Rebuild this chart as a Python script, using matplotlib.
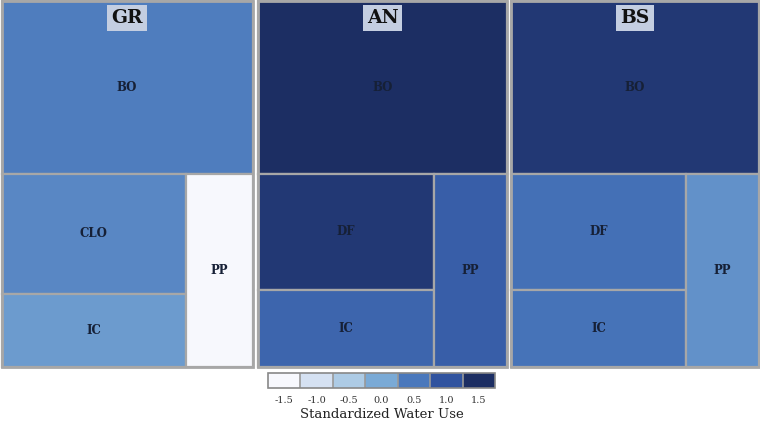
import numpy as np
import matplotlib.pyplot as plt
from matplotlib.patches import Rectangle
from matplotlib.colors import LinearSegmentedColormap, ListedColormap, BoundaryNorm

# panels, treemap order: top block, left-upper, left-lower, right column
panels = ["GR", "AN", "BS"]
gr_labels = ["BO", "CLO", "IC", "PP"]
gr_size = [47.0, 24.1, 14.8, 14.1]
gr_z = [0.45, 0.35, 0.15, -1.6]
an_labels = ["BO", "DF", "IC", "PP"]
an_size = [47.0, 22.4, 15.0, 15.6]
an_z = [1.55, 1.35, 0.75, 0.85]
bs_labels = ["BO", "DF", "IC", "PP"]
bs_size = [47.0, 22.4, 15.0, 15.6]
bs_z = [1.35, 0.6, 0.57, 0.25]

bin_ticks = [-1.5, -1.0, -0.5, 0.0, 0.5, 1.0, 1.5]
bin_colors = ["#f7f8fd", "#d5e1f2", "#adcbe5", "#7aaad6", "#4a78bc", "#30539f", "#1c2e63"]

cmap = LinearSegmentedColormap.from_list("wu", bin_colors)
norm = plt.Normalize(-1.5, 1.5)

serif = ["DejaVu Serif", "Liberation Serif"]
edge = "#a7a7a7"


def layout(sizes, x, y, w, h):
    tot = sum(sizes)
    h0 = h * sizes[0] / tot
    rects = [(x, y, w, h0)]
    rest = sum(sizes[1:])
    wr = w * sizes[3] / rest
    wl = w - wr
    hb = h - h0
    h1 = hb * sizes[1] / (sizes[1] + sizes[2])
    rects.append((x, y + h0, wl, h1))
    rects.append((x, y + h0 + h1, wl, hb - h1))
    rects.append((x + wl, y + h0, wr, hb))
    return rects


fig = plt.figure(figsize=(7.6, 4.23), dpi=100)
ax = fig.add_axes([0, 0, 1, 1])
ax.set_xlim(0, 760)
ax.set_ylim(423, 0)
ax.axis("off")

frames = [(1.5, 1.5, 251, 366), (258, 1.5, 249, 366), (511, 1.5, 248, 366)]
data = [(gr_labels, gr_size, gr_z), (an_labels, an_size, an_z), (bs_labels, bs_size, bs_z)]

for name, (fx, fy, fw, fh), (labs, sizes, zs) in zip(panels, frames, data):
    rects = layout(sizes, fx, fy, fw, fh)
    for (rx, ry, rw, rh), lab, z in zip(rects, labs, zs):
        ax.add_patch(Rectangle((rx, ry), rw, rh, facecolor=cmap(norm(z)),
                               edgecolor=edge, linewidth=1.6))
        ax.text(rx + rw / 2, ry + rh / 2, lab, ha="center", va="center",
                fontsize=8.5, fontweight="bold", color="#162036", family=serif)
    ax.add_patch(Rectangle((fx, fy), fw, fh, facecolor="none", edgecolor=edge, linewidth=2))
    ax.text(fx + fw / 2, 18, name, ha="center", va="center", fontsize=13.5,
            fontweight="bold", color="#111111", family=serif,
            bbox=dict(boxstyle="square,pad=0.22", facecolor="#c4cee1", edgecolor="none"))

# discrete colour legend
cax = fig.add_axes([268 / 760, 1 - 388 / 423, 227 / 760, 15 / 423])
bounds = np.arange(-1.75, 1.76, 0.5)
cb = fig.colorbar(plt.cm.ScalarMappable(norm=BoundaryNorm(bounds, 7), cmap=ListedColormap(bin_colors)),
                  cax=cax, orientation="horizontal", ticks=bin_ticks, drawedges=True)
cb.outline.set_edgecolor("#888888")
cb.outline.set_linewidth(1.2)
cb.dividers.set_color("#999999")
cb.dividers.set_linewidth(1.2)
cax.minorticks_off()
cax.tick_params(which="both", length=0, pad=6)
cax.set_xticklabels(["%.1f" % t for t in bin_ticks], fontsize=7, family=serif, color="#333333")
cb.set_label("Standardized Water Use", fontsize=9.5, family=serif, color="#222222", labelpad=2)

fig.savefig("out.png", dpi=100)
